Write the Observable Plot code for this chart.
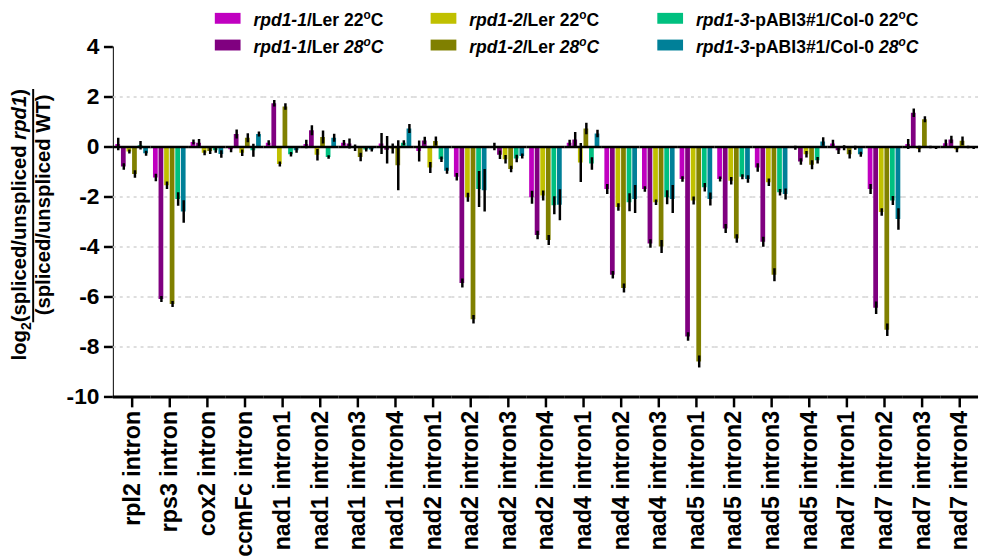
<!DOCTYPE html>
<html><head><meta charset="utf-8">
<script src="https://cdn.jsdelivr.net/npm/d3@7"></script>
<script src="https://cdn.jsdelivr.net/npm/@observablehq/plot@0.6"></script>
<style>
html,body{margin:0;padding:0;background:#fff;overflow:hidden;}
#wrap{position:relative;width:983px;height:558px;overflow:hidden;background:#fff;}
#wrap svg{font-family:"Liberation Sans",Arial,sans-serif;font-weight:bold;}
#wrap [aria-label^="y-axis"] text{font-size:23px;}
#wrap [aria-label^="fx-axis"] text{font-size:23.5px;}
#wrap [aria-label^="y-axis"] path,#wrap [aria-label^="y-axis"] line,
#wrap [aria-label^="fx-axis"] path,#wrap [aria-label^="fx-axis"] line{stroke-width:2.5px;stroke:#000;}
</style></head>
<body><div id="wrap"></div>
<script>
const categories = ["rpl2 intron","rps3 intron","cox2 intron","ccmFc intron","nad1 intron1","nad1 intron2","nad1 intron3","nad1 intron4","nad2 intron1","nad2 intron2","nad2 intron3","nad2 intron4","nad4 intron1","nad4 intron2","nad4 intron3","nad5 intron1","nad5 intron2","nad5 intron3","nad5 intron4","nad7 intron1","nad7 intron2","nad7 intron3","nad7 intron4"];

const seriesKeys = ["rpd1-1 22","rpd1-1 28","rpd1-2 22","rpd1-2 28","rpd1-3 22","rpd1-3 28"];
const seriesGenotype = ["rpd1-1","rpd1-1","rpd1-2","rpd1-2","rpd1-3","rpd1-3"];
const seriesBackground = ["/Ler","/Ler","/Ler","/Ler","-pABI3#1/Col-0","-pABI3#1/Col-0"];
const seriesTemp = ["22","28","22","28","22","28"];
const seriesColors = ["#C000C0","#800080","#C0C000","#808000","#00C080","#008098"];

// values per series (log2 ratio), one per category
const v1_22 = [0.1,-1.24,0.18,-0.11,0.15,0.1,0.15,0.12,-0.18,-1.21,0.0,-2.03,0.15,-1.7,-1.7,-1.3,-1.3,-0.84,-0.05,0.12,-1.7,0.1,0.13];
const v1_28 = [-0.8,-6.1,0.15,0.5,1.73,0.65,0.12,-0.13,0.24,-5.46,-0.33,-3.54,0.28,-5.13,-3.88,-7.6,-3.28,-3.81,-0.6,-0.15,-6.45,1.35,0.28];
const v2_22 = [-0.2,-1.55,-0.25,-0.25,-0.7,-0.33,-0.05,-0.08,-0.84,-2.03,-0.51,-1.96,-0.64,-2.42,-2.23,-2.16,-1.37,-1.43,-0.31,-0.05,-2.62,-0.1,-0.11];
const v2_28 = [-1.1,-6.3,-0.18,0.35,1.6,0.38,-0.42,-0.75,0.22,-6.91,-0.9,-3.74,0.72,-5.66,-4.0,-8.6,-3.68,-5.13,-0.73,-0.31,-7.33,1.09,0.23];
const v3_22 = [0.05,-2.1,-0.15,-0.15,-0.31,-0.42,-0.12,0.15,-0.51,-1.7,-0.48,-2.35,-0.68,-2.23,-2.03,-1.63,-1.21,-1.83,-0.55,-0.05,-2.16,-0.02,-0.02];
const v3_28 = [-0.27,-2.6,-0.3,0.5,-0.15,0.35,-0.12,0.72,-0.97,-1.75,-0.38,-2.33,0.52,-2.1,-2.1,-2.1,-1.3,-1.9,0.2,-0.31,-2.9,-0.05,-0.05];

// error bar half-lengths per series
const e1_22 = [0.25,0.15,0.1,0.12,0.1,0.17,0.11,0.42,0.42,0.15,0.15,0.26,0.12,0.2,0.11,0.11,0.1,0.17,0.08,0.15,0.2,0.2,0.15];
const e1_28 = [0.13,0.12,0.15,0.18,0.13,0.2,0.2,0.55,0.15,0.18,0.17,0.17,0.3,0.15,0.17,0.17,0.18,0.2,0.13,0.15,0.25,0.17,0.15];
const e2_22 = [0.08,0.15,0.1,0.13,0.1,0.23,0.13,0.2,0.22,0.18,0.17,0.2,0.78,0.15,0.11,0.16,0.15,0.15,0.13,0.1,0.15,0.13,0.12];
const e2_28 = [0.15,0.12,0.12,0.18,0.13,0.26,0.17,1.0,0.18,0.17,0.13,0.2,0.23,0.18,0.26,0.24,0.17,0.26,0.18,0.17,0.25,0.12,0.17];
const e3_22 = [0.17,0.27,0.1,0.26,0.09,0.07,0.08,0.1,0.11,0.72,0.15,0.36,0.25,0.36,0.28,0.17,0.1,0.13,0.13,0.08,0.18,0.05,0.05];
const e3_28 = [0.1,0.45,0.15,0.1,0.1,0.16,0.08,0.18,0.12,0.85,0.1,0.62,0.15,0.56,0.56,0.26,0.15,0.22,0.17,0.1,0.43,0.05,0.05];

const yTicks = [-10,-8,-6,-4,-2,0,2,4];
const gridValues = [-8,-6,-4,-2,2];

const valueSets = [v1_22,v1_28,v2_22,v2_28,v3_22,v3_28];
const errorSets = [e1_22,e1_28,e2_22,e2_28,e3_22,e3_28];

const rows = [];
categories.forEach((cat, i) => {
  seriesKeys.forEach((s, j) => {
    rows.push({cat, series: s, value: valueSets[j][i], err: errorSets[j][i]});
  });
});

const chart = Plot.plot({
  width: 993, height: 558,
  marginLeft: 109.5, marginRight: 0, marginTop: 47, marginBottom: 157.5,
  style: {fontFamily: '"Liberation Sans", Arial, sans-serif', fontWeight: "bold", fontSize: "21px", background: "transparent", overflow: "visible"},
  facet: {data: rows, x: "cat"},
  fx: {domain: categories, padding: 0, label: null, tickRotate: -90, tickSize: 11, tickPadding: 3, axis: "bottom"},
  x: {domain: seriesKeys, paddingInner: 0.15, paddingOuter: 0.45, axis: null, round: false},
  y: {domain: [-10, 4], ticks: yTicks, tickSize: 9, tickPadding: 5, label: null, line: true, tickFormat: d => String(d)},
  color: {domain: seriesKeys, range: seriesColors},
  marks: [
    Plot.ruleY(gridValues, {stroke: "#d4d4d4", strokeDasharray: "3,4", strokeWidth: 1.5}),
    Plot.barY(rows, {x: "series", y: "value", fill: "series"}),
    Plot.ruleY([0], {stroke: "#000", strokeWidth: 2.5}),
    Plot.ruleX(rows, {x: "series", y1: d => d.value - d.err, y2: d => d.value + d.err, stroke: "#000", strokeWidth: 2.5}),
    Plot.ruleY([-10], {stroke: "#000", strokeWidth: 3})
  ]
});
document.getElementById("wrap").appendChild(chart);

const svg = d3.select(chart);

// Legend
const colSwatchX = [217, 435, 664];
const rowSwatchY = [13, 40];
const leg = svg.append("g").attr("class", "legend").attr("text-anchor", "start").style("font-size", "17.7px").style("font-weight", "bold");
seriesKeys.forEach((k, j) => {
  const col = Math.floor(j / 2), row = j % 2;
  const sx = colSwatchX[col], sy = rowSwatchY[row];
  leg.append("rect").attr("x", sx).attr("y", sy).attr("width", 26).attr("height", 11).attr("fill", seriesColors[j]);
  const t = leg.append("text").attr("x", sx + 39).attr("y", sy + 13.5).attr("fill", "#000").attr("text-anchor", "start");
  t.append("tspan").attr("font-style", "italic").text(seriesGenotype[j]);
  t.append("tspan").text(seriesBackground[j] + " ");
  const it = seriesTemp[j] === "28" ? "italic" : "normal";
  t.append("tspan").attr("font-style", it).text(seriesTemp[j]);
  t.append("tspan").attr("font-style", it).attr("dy", -7).attr("font-size", "12px").text("o");
  t.append("tspan").attr("font-style", it).attr("dy", 7).text("C");
});

// Y axis title
const yl = svg.append("g").attr("transform", "translate(26,227) rotate(-90)").style("font-size", "20.5px").style("font-weight", "bold");
const t1 = yl.append("text").attr("x", 0).attr("y", 0).attr("text-anchor", "middle").attr("fill", "#000");
t1.append("tspan").text("log");
t1.append("tspan").attr("dy", 5).attr("font-size", "14px").text("2");
t1.append("tspan").attr("dy", -5).text("(spliced/unspliced ");
t1.append("tspan").attr("font-style", "italic").text("rpd1");
t1.append("tspan").text(")");
yl.append("text").attr("x", 20).attr("y", 25).attr("text-anchor", "middle").attr("fill", "#000").text("(spliced/unspliced WT)");
const node = t1.node();
const n = node.getNumberOfChars();
const xs = node.getStartPositionOfChar(4).x;
const xe = node.getEndPositionOfChar(n - 1).x;
yl.append("line").attr("x1", xs).attr("x2", xe).attr("y1", 7.5).attr("y2", 7.5).attr("stroke", "#000").attr("stroke-width", 2);
</script>
</body></html>
